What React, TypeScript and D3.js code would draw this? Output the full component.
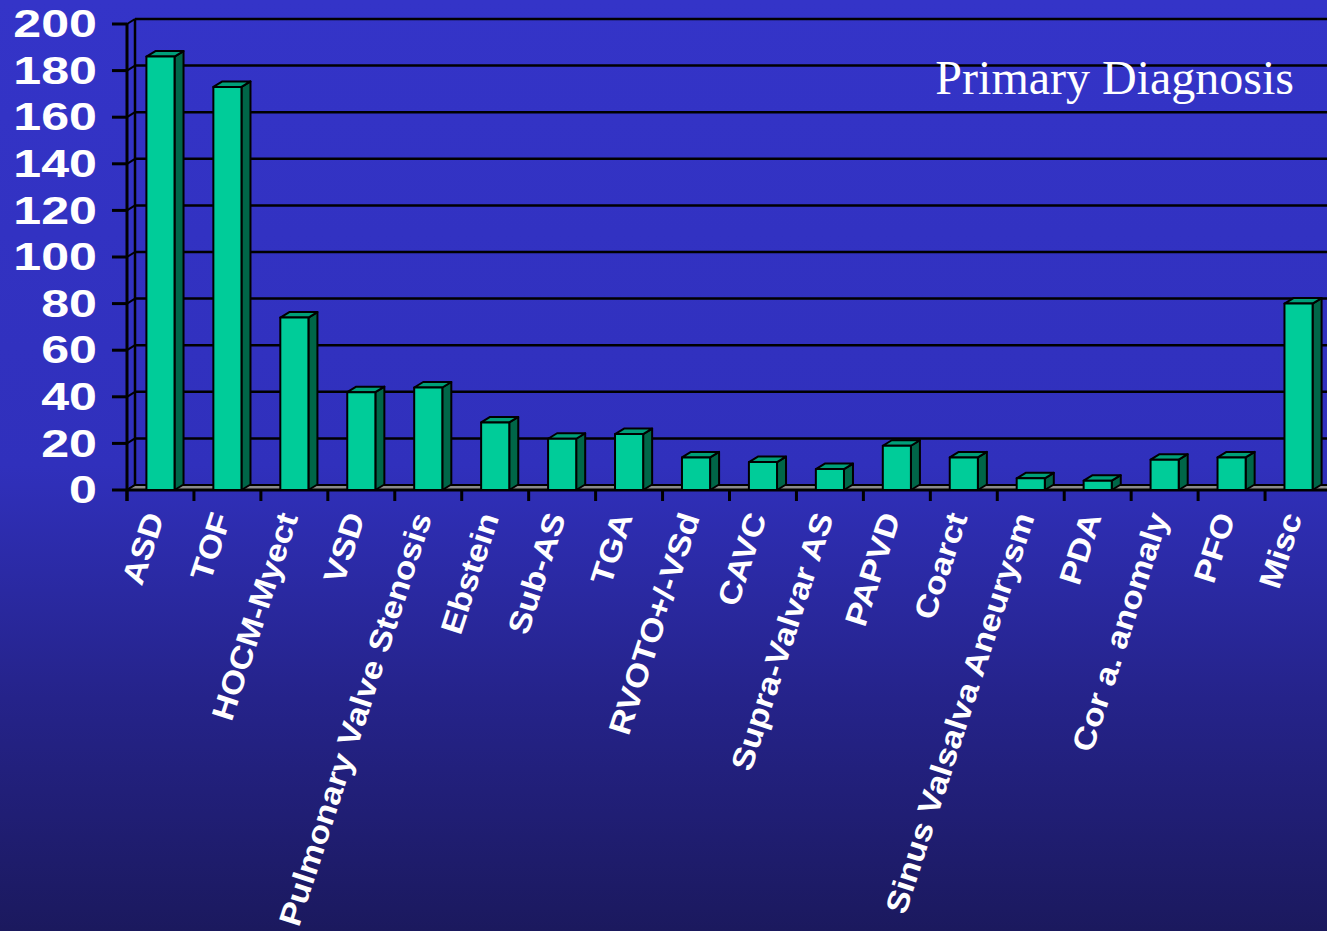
import React from "react";
import * as d3 from "d3";

const categories = [
  "ASD", "TOF", "HOCM-Myect", "VSD", "Pulmonary Valve Stenosis", "Ebstein",
  "Sub-AS", "TGA", "RVOTO+/-VSd", "CAVC", "Supra-Valvar AS", "PAPVD",
  "Coarct", "Sinus Valsalva Aneurysm", "PDA", "Cor a. anomaly", "PFO", "Misc",
];
const counts = [186, 173, 74, 42, 44, 29, 22, 24, 14, 12, 9, 19, 14, 5, 4, 13, 14, 80];
const yTicks = [0, 20, 40, 60, 80, 100, 120, 140, 160, 180, 200];
const title = "Primary Diagnosis";

const W = 1327;
const H = 931;
const X0 = 127;
const X1 = 1332;
const DX = 8;
const DY = -5;

export default function App() {
  const x = d3.scaleBand<string>().domain(categories).range([X0, X1]).padding(0);
  const y = d3.scaleLinear().domain([0, 200]).range([490, 24]);
  const bw = x.bandwidth();
  const barOff = bw * 0.29;
  const barW = bw * 0.42;
  const bdx = 9;
  const bdy = -5.5;

  return (
    <svg width={W} height={H} style={{ position: "absolute", left: 0, top: 0, display: "block" }}>
      <defs>
        <linearGradient id="bg" x1="0" y1="0" x2="0" y2="1">
          <stop offset="0" stopColor="#3434C8" />
          <stop offset="0.5" stopColor="#3030BC" />
          <stop offset="0.75" stopColor="#25238A" />
          <stop offset="1" stopColor="#1B195E" />
        </linearGradient>
      </defs>
      <rect x={0} y={0} width={W} height={H} fill="url(#bg)" />

      {/* back wall gridlines */}
      {yTicks.filter((t) => t > 0).map((t) => (
        <line key={"g" + t} x1={X0 + DX} x2={W + 10} y1={y(t) + DY} y2={y(t) + DY} stroke="#000" strokeWidth={2.5} />
      ))}
      <line x1={X0 + DX} x2={X0 + DX} y1={y(200) + DY} y2={y(0) + DY} stroke="#000" strokeWidth={2.5} />
      {/* side wall diagonals */}
      {yTicks.map((t) => (
        <line key={"d" + t} x1={X0} y1={y(t)} x2={X0 + DX} y2={y(t) + DY} stroke="#000" strokeWidth={2} />
      ))}
      {/* floor */}
      <polygon
        points={`${X0},${y(0)} ${X0 + DX},${y(0) + DY} ${W + 10},${y(0) + DY} ${W + 10},${y(0)}`}
        fill="#8C8C8C"
        stroke="#000"
        strokeWidth={2}
      />
      <line x1={X0} x2={W + 10} y1={y(0)} y2={y(0)} stroke="#000" strokeWidth={3} />
      {/* front y axis */}
      <line x1={X0} x2={X0} y1={y(200)} y2={y(0) + 11} stroke="#000" strokeWidth={3} />
      {yTicks.map((t) => (
        <line key={"t" + t} x1={X0 - 15} x2={X0} y1={y(t)} y2={y(t)} stroke="#000" strokeWidth={3} />
      ))}
      {/* x ticks */}
      {categories.map((c) => (
        <line key={"xt" + c} x1={x(c)!} x2={x(c)!} y1={y(0)} y2={y(0) + 11} stroke="#000" strokeWidth={3} />
      ))}

      {/* bars */}
      {categories.map((c, i) => {
        const bx = x(c)! + barOff;
        const top = y(counts[i]);
        const bot = y(0);
        return (
          <g key={"b" + c} stroke="#000" strokeWidth={2} strokeLinejoin="round">
            <polygon
              points={`${bx + barW},${top} ${bx + barW + bdx},${top + bdy} ${bx + barW + bdx},${bot + bdy} ${bx + barW},${bot}`}
              fill="#006648"
            />
            <polygon
              points={`${bx},${top} ${bx + bdx},${top + bdy} ${bx + barW + bdx},${top + bdy} ${bx + barW},${top}`}
              fill="#00A07A"
            />
            <rect x={bx} y={top} width={barW} height={bot - top} fill="#00CC99" />
          </g>
        );
      })}

      {/* y tick labels */}
      {yTicks.map((t) => (
        <text
          key={"yl" + t}
          transform={`translate(97,${y(t)}) scale(1.32,1)`}
          textAnchor="end"
          dominantBaseline="central"
          fontFamily="Liberation Sans, Arial, sans-serif"
          fontWeight="bold"
          fontSize={38}
          fill="#fff"
        >
          {t}
        </text>
      ))}

      {/* category labels */}
      {categories.map((c) => (
        <text
          key={"cl" + c}
          transform={`translate(${x(c)! + bw / 2 + 4},${517}) rotate(-72) scale(1.12,1)`}
          textAnchor="end"
          fontFamily="Liberation Sans, Arial, sans-serif"
          fontWeight="bold"
          fontSize={31}
          fill="#fff"
        >
          {c}
        </text>
      ))}

      {/* title */}
      <text
        x={1294}
        y={94}
        textAnchor="end"
        fontFamily="Liberation Serif, Times New Roman, serif"
        fontSize={48}
        fill="#fff"
      >
        {title}
      </text>
    </svg>
  );
}
